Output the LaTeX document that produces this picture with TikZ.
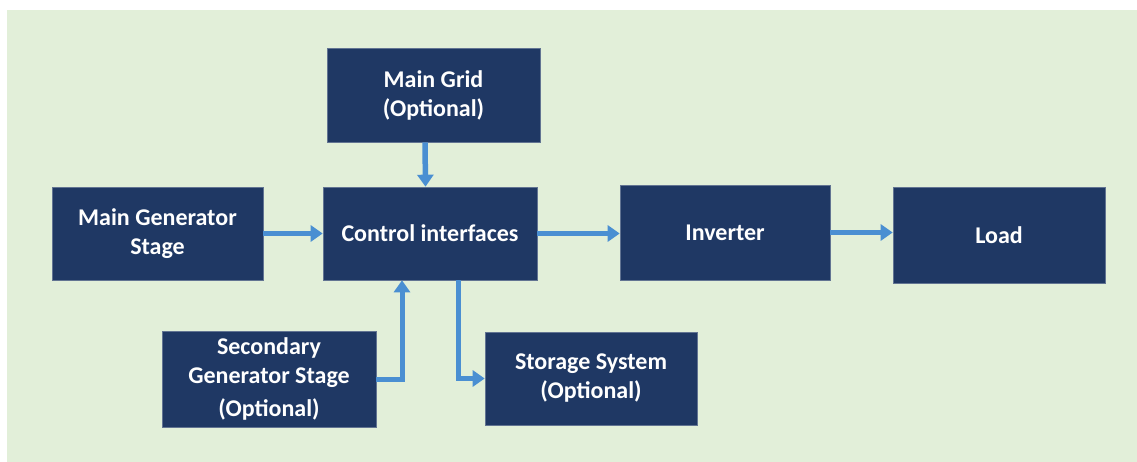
\documentclass[tikz,border=0pt]{standalone}
\usepackage{fontspec}
\setmainfont{Carlito}
\usetikzlibrary{arrows.meta}
\definecolor{bgpanel}{HTML}{E2EFD9}
\definecolor{boxfill}{HTML}{1F3864}
\definecolor{arrowblue}{HTML}{4A8FD2}
\tikzset{
  blk/.style={draw=boxfill!70!white, line width=0.6pt, fill=boxfill, text=white, inner sep=0pt,
    minimum width=#1, minimum height=94pt, align=center,
    font=\fontsize{24}{29}\selectfont\bfseries},
  blk/.default=212pt,
  arr/.style={draw=arrowblue, line width=5.5pt, -{Triangle[length=12pt,width=16pt]}},
  elb/.style={draw=arrowblue, line width=5pt, -{Triangle[length=12pt,width=16pt]}}
}
\begin{document}
\begin{tikzpicture}[x=1pt,y=-1pt]
\useasboundingbox (0,0) rectangle (1137,462);
\fill[white] (0,0) rectangle (1137,462);
\fill[bgpanel] (7,10) rectangle (1137,462);
\node[blk=213pt] (grid) at (433.5,95) {Main Grid\\(Optional)};
\node[blk=211pt, minimum height=93pt] (gen) at (157.5,233.5) {Main Generator\\Stage};
\node[blk=214pt, minimum height=93pt] (ctrl) at (430,233.5) {Control interfaces};
\node[blk=210pt, minimum height=95pt] (inv) at (725,232.5) {Inverter};
\node[blk=212pt, minimum height=96pt] (load) at (999,235) {Load};
\node[blk=214pt, minimum height=96pt] (sec) at (269,379) {Secondary\\Generator Stage\\[4pt](Optional)};
\node[blk=212pt, minimum height=93pt] (stor) at (591,378.5) {Storage System\\(Optional)};
\draw[arr] ([xshift=-8.5pt]grid.south) -- ([xshift=-4.5pt]ctrl.north);
\draw[arr] (gen.east) -- (ctrl.west);
\draw[arr] (ctrl.east) -- (ctrl.east -| inv.west);
\draw[arr] (inv.east) -- (inv.east -| load.west);
\draw[elb] (sec.east) -| ([xshift=-28pt]ctrl.south);
\draw[elb] ([xshift=28pt]ctrl.south) |- (stor.west);
\end{tikzpicture}
\end{document}
